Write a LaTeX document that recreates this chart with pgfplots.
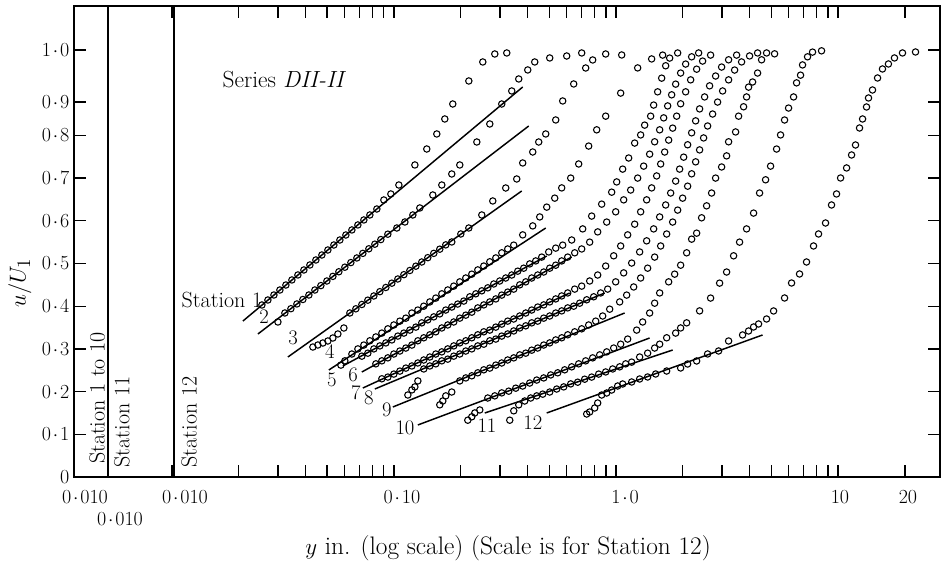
\documentclass[border=0pt]{standalone}
\usepackage{pgfplots}
\pgfplotsset{compat=1.18}
\newcommand{\md}{\kern1.4pt$\cdot$\kern1.4pt}
\pgfplotsset{pt/.style={only marks, mark=o, mark size=2.4pt, line width=0.8pt}}
\begin{document}
\begin{tikzpicture}
\begin{axis}[
  scale only axis, width=649.5pt, height=353.25pt,
  xmode=log, xmin=0.00362, xmax=28.8, ymin=0, ymax=1.103,
  axis line style={line width=1.1pt},
  xtick={0.01,0.02,0.03,0.04,0.05,0.06,0.07,0.08,0.09,0.1,0.2,0.3,0.4,0.5,0.6,0.7,0.8,0.9,1,2,3,4,5,6,7,8,9,10,20},
  xticklabels={,,,,,,,,,,,,,,,,,,,,,,,,,,,,},
  ytick={0,0.1,0.2,0.3,0.4,0.5,0.6,0.7,0.8,0.878,1.0},
  yticklabels={0,0\md1,0\md2,0\md3,0\md4,0\md5,0\md6,0\md7,0\md8,0\md9,1\md0},
  tick align=inside, major tick length=9pt,
  tick style={line width=1pt, black},
  ticklabel style={font=\fontsize{15}{17}\selectfont},
  clip=false,
]
% vertical origin lines
\addplot[line width=1.1pt] coordinates {(0.005148,0) (0.005148,1.103)};
\addplot[line width=1.1pt] coordinates {(0.01021,0) (0.01021,1.103)};
% fitted lines
\addplot[line width=1.1pt] coordinates {(0.02088,0.3653) (0.3801,0.9133)};
\addplot[line width=1.1pt] coordinates {(0.02439,0.3349) (0.4045,0.8220)};
\addplot[line width=1.1pt] coordinates {(0.03328,0.2810) (0.3762,0.6698)};
\addplot[line width=1.1pt] coordinates {(0.05090,0.2506) (0.4825,0.5831)};
\addplot[line width=1.1pt] coordinates {(0.05885,0.2600) (0.4875,0.5176)};
\addplot[line width=1.1pt] coordinates {(0.07166,0.2459) (0.6317,0.5152)};
\addplot[line width=1.1pt] coordinates {(0.07241,0.2084) (0.6187,0.4309)};
\addplot[line width=1.1pt] coordinates {(0.08200,0.2061) (0.8893,0.4309)};
\addplot[line width=1.1pt] coordinates {(0.09882,0.1639) (1.0942,0.3841)};
\addplot[line width=1.1pt] coordinates {(0.1281,0.1218) (1.4176,0.3255)};
\addplot[line width=1.1pt] coordinates {(0.2565,0.1499) (1.8000,0.2974)};
\addplot[line width=1.1pt] coordinates {(0.4875,0.1499) (4.573,0.3326)};
% station 1
\addplot[pt] coordinates {
(0.02542,0.4028)(0.02705,0.4145)(0.02879,0.4262)(0.03063,0.4379)(0.03260,0.4496)
(0.03469,0.4614)(0.03692,0.4731)(0.03929,0.4848)(0.04181,0.4965)(0.04449,0.5082)
(0.04734,0.5199)(0.05038,0.5316)(0.05361,0.5433)(0.05705,0.5550)(0.06071,0.5667)
(0.06461,0.5785)(0.06876,0.5902)(0.07317,0.6019)(0.07786,0.6136)(0.08372,0.6276)
(0.09002,0.6487)(0.09679,0.6628)(0.1052,0.6838)(0.1242,0.7307)(0.1405,0.7681)
(0.1559,0.8033)(0.1694,0.8384)(0.1840,0.8735)(0.2173,0.9274)(0.2512,0.9719)
(0.2845,0.9906)(0.3221,0.9930)};
% station 2
\addplot[pt] coordinates {
(0.03001,0.3630)(0.03226,0.3841)(0.03433,0.3941)(0.03654,0.4052)(0.03888,0.4157)
(0.04138,0.4262)(0.04403,0.4379)(0.04685,0.4482)(0.04986,0.4590)(0.05306,0.4698)
(0.05646,0.4806)(0.06008,0.4913)(0.06394,0.5021)(0.06805,0.5129)(0.07241,0.5237)
(0.07705,0.5344)(0.08200,0.5452)(0.08726,0.5560)(0.09383,0.5686)(0.1030,0.5831)
(0.1120,0.5972)(0.1216,0.6136)(0.1307,0.6300)(0.1496,0.6604)(0.1642,0.6838)
(0.1821,0.7096)(0.1979,0.7307)(0.2361,0.7845)(0.2701,0.8267)(0.3058,0.8735)
(0.3392,0.9040)(0.3647,0.9321)(0.4004,0.9532)(0.4305,0.9719)(0.5029,0.9813)
(0.5998,0.9859)(0.7007,0.9930)};
% station 3
\addplot[pt] coordinates {
(0.04313,0.3044)(0.04542,0.3091)(0.04784,0.3138)(0.05038,0.3185)(0.05306,0.3255)
(0.05589,0.3349)(0.05947,0.3489)(0.06328,0.3841)(0.06735,0.3939)(0.07166,0.4040)
(0.07626,0.4141)(0.08115,0.4239)(0.08636,0.4340)(0.09190,0.4438)(0.09780,0.4539)
(0.1041,0.4637)(0.1108,0.4738)(0.1179,0.4836)(0.1255,0.4937)(0.1334,0.5035)
(0.1420,0.5136)(0.1511,0.5237)(0.1608,0.5335)(0.1711,0.5436)(0.1821,0.5504)
(0.2000,0.5691)(0.2173,0.5831)(0.2486,0.6136)(0.2786,0.6464)(0.3187,0.6768)
(0.3572,0.6979)(0.3801,0.7354)(0.4217,0.7611)(0.4487,0.7845)(0.4825,0.8033)
(0.5352,0.8361)(0.5754,0.8806)(0.6449,0.9204)(0.7304,0.9578)(0.7853,0.9766)
(0.8986,0.9906)(1.061,0.9883)};
% station 4
\addplot[pt] coordinates {
(0.05764,0.262)(0.06008,0.272)(0.06461,0.288)(0.06876,0.300)(0.07317,0.309)
(0.07786,0.319)(0.08286,0.328)(0.08817,0.337)(0.09383,0.347)(0.09985,0.356)
(0.1063,0.365)(0.1131,0.372)(0.1204,0.384)(0.1281,0.391)(0.1362,0.400)
(0.1450,0.410)(0.1543,0.419)(0.1642,0.429)(0.1747,0.438)(0.1859,0.447)
(0.1979,0.457)(0.2106,0.466)(0.2241,0.475)(0.2385,0.485)(0.2538,0.494)
(0.2701,0.504)(0.2875,0.513)(0.3058,0.525)(0.3254,0.534)(0.3463,0.543)
(0.3801,0.567)(0.4217,0.588)(0.4534,0.609)(0.4875,0.632)(0.5297,0.653)
(0.5695,0.677)(0.6252,0.700)(0.6792,0.733)(0.7534,0.775)(0.8186,0.813)
(0.8986,0.845)(1.0497,0.899)(1.2521,0.958)(1.4473,0.979)(1.6227,0.988)};
% station 5
\addplot[pt] coordinates {
(0.07166,0.283)(0.07626,0.290)(0.08115,0.300)
(0.08636,0.307)(0.09190,0.314)(0.09780,0.321)(0.1041,0.330)(0.1108,0.337)
(0.1179,0.344)(0.1255,0.351)(0.1334,0.361)(0.1420,0.368)(0.1511,0.375)
(0.1608,0.382)(0.1711,0.391)(0.1821,0.398)(0.1938,0.405)(0.2063,0.412)
(0.2195,0.422)(0.2336,0.429)(0.2486,0.436)(0.2646,0.443)(0.2815,0.452)
(0.2995,0.459)(0.3187,0.466)(0.3392,0.473)(0.3610,0.482)(0.3841,0.489)
(0.4087,0.499)(0.4350,0.506)(0.4629,0.515)(0.4977,0.527)(0.5352,0.536)
(0.5754,0.543)(0.6317,0.555)(0.7080,0.581)(0.7772,0.611)(0.8621,0.639)
(0.9563,0.667)(1.0072,0.691)(1.0717,0.721)(1.1405,0.747)(1.2137,0.782)
(1.2913,0.801)(1.3460,0.824)(1.4324,0.845)(1.4776,0.871)(1.5402,0.902)
(1.6060,0.934)(1.6740,0.963)(1.7448,0.981)(1.8958,0.993)};
% station 6
\addplot[pt] coordinates {
(0.08286,0.265)(0.08817,0.272)(0.09383,0.279)
(0.09985,0.288)(0.1063,0.295)(0.1131,0.302)(0.1204,0.309)(0.1281,0.319)
(0.1362,0.326)(0.1450,0.333)(0.1543,0.340)(0.1642,0.349)(0.1747,0.356)
(0.1859,0.363)(0.1979,0.372)(0.2106,0.379)(0.2241,0.386)(0.2385,0.396)
(0.2538,0.403)(0.2701,0.410)(0.2875,0.417)(0.3058,0.426)(0.3254,0.433)
(0.3463,0.440)(0.3685,0.450)(0.3922,0.457)(0.4173,0.466)(0.4441,0.473)
(0.4726,0.480)(0.5029,0.489)(0.5352,0.496)(0.5695,0.506)(0.6061,0.515)
(0.6517,0.525)(0.7007,0.534)(0.7612,0.550)(0.8271,0.574)(0.9080,0.597)
(0.9968,0.621)(1.0829,0.649)(1.1644,0.672)(1.2521,0.700)(1.3322,0.728)
(1.4176,0.756)(1.4931,0.785)(1.573,0.813)(1.6397,0.841)(1.7091,0.869)
(1.7814,0.895)(1.8569,0.920)(1.9551,0.946)(2.0592,0.967)(2.1914,0.984)
(2.3562,0.993)};
% station 7
\addplot[pt] coordinates {
(0.08817,0.230)(0.09383,0.234)(0.09985,0.241)
(0.1063,0.248)(0.1131,0.255)(0.1204,0.260)(0.1281,0.267)(0.1362,0.274)
(0.1450,0.281)(0.1543,0.288)(0.1642,0.293)(0.1747,0.300)(0.1859,0.307)
(0.1979,0.314)(0.2106,0.319)(0.2241,0.326)(0.2385,0.333)(0.2538,0.340)
(0.2701,0.344)(0.2875,0.351)(0.3058,0.358)(0.3254,0.365)(0.3463,0.370)
(0.3685,0.377)(0.3922,0.384)(0.4173,0.391)(0.4441,0.398)(0.4726,0.403)
(0.5029,0.410)(0.5352,0.417)(0.5695,0.424)(0.6061,0.431)(0.6517,0.440)
(0.7007,0.447)(0.7612,0.459)(0.8271,0.473)(0.8986,0.494)(0.9763,0.518)
(1.0497,0.541)(1.1288,0.567)(1.2137,0.592)(1.2913,0.621)(1.3742,0.649)
(1.4473,0.677)(1.5244,0.705)(1.5894,0.733)(1.6567,0.761)(1.7268,0.789)
(1.8000,0.817)(1.8763,0.845)(1.9551,0.874)(2.0592,0.902)(2.1688,0.930)
(2.3081,0.955)(2.4552,0.974)(2.6675,0.988)};
% station 8
\addplot[pt] coordinates {
(0.1155,0.192)(0.1204,0.204)(0.1242,0.211)(0.1281,0.225)(0.1362,0.253)
(0.1450,0.260)(0.1543,0.265)(0.1642,0.272)(0.1747,0.276)(0.1859,0.283)
(0.1979,0.288)(0.2106,0.295)(0.2241,0.300)(0.2385,0.307)(0.2538,0.311)
(0.2701,0.319)(0.2875,0.323)(0.3058,0.330)(0.3254,0.335)(0.3463,0.342)
(0.3685,0.349)(0.3922,0.354)(0.4173,0.361)(0.4441,0.365)(0.4726,0.372)
(0.5029,0.377)(0.5352,0.384)(0.5695,0.389)(0.6061,0.396)(0.6449,0.400)
(0.6863,0.407)(0.7380,0.415)(0.7935,0.422)(0.8532,0.431)(0.9174,0.440)
(0.9968,0.457)(1.0829,0.478)(1.1766,0.501)(1.278,0.527)(1.3742,0.553)
(1.4776,0.581)(1.573,0.609)(1.6740,0.637)(1.7630,0.665)(1.8569,0.693)
(1.935,0.721)(2.0170,0.749)(2.1024,0.778)(2.1914,0.806)(2.2842,0.834)
(2.380,0.862)(2.5066,0.890)(2.6399,0.916)(2.8096,0.939)(2.9905,0.960)
(3.2155,0.977)(3.4937,0.988)};
% station 9
\addplot[pt] coordinates {
(0.1608,0.169)(0.1659,0.178)(0.1711,0.190)(0.1821,0.199)(0.1979,0.225)
(0.2106,0.232)(0.2241,0.237)(0.2385,0.244)(0.2538,0.251)(0.2701,0.255)
(0.2875,0.262)(0.3058,0.267)(0.3254,0.274)(0.3463,0.279)(0.3685,0.286)
(0.3922,0.290)(0.4173,0.297)(0.4441,0.302)(0.4726,0.309)(0.5029,0.314)
(0.5352,0.321)(0.5695,0.326)(0.6061,0.333)(0.6517,0.340)(0.7007,0.347)
(0.7534,0.356)(0.8102,0.365)(0.8711,0.377)(0.9366,0.393)(1.0389,0.410)
(1.1171,0.426)(1.2012,0.445)(1.2913,0.466)(1.3885,0.489)(1.4931,0.515)
(1.5894,0.541)(1.6914,0.569)(1.8000,0.597)(1.8958,0.625)(1.9961,0.653)
(2.1024,0.681)(2.1914,0.710)(2.2842,0.738)(2.380,0.766)(2.4809,0.794)
(2.5859,0.822)(2.7234,0.850)(2.8684,0.878)(3.0216,0.904)(3.2155,0.930)
(3.4220,0.953)(3.6787,0.972)(3.9965,0.986)(4.3423,0.993)};
% station 10
\addplot[pt] coordinates {
(0.2150,0.133)(0.2241,0.141)(0.2312,0.150)(0.2435,0.157)(0.2646,0.185)
(0.2845,0.190)(0.3058,0.197)(0.3288,0.201)(0.3536,0.208)(0.3801,0.213)
(0.4087,0.220)(0.4395,0.227)(0.4726,0.232)(0.5082,0.239)(0.5464,0.244)
(0.5875,0.251)(0.6317,0.258)(0.6792,0.265)(0.7304,0.272)(0.7853,0.279)
(0.8444,0.286)(0.9080,0.293)(0.9763,0.302)(1.0497,0.311)(1.1288,0.323)
(1.2392,0.344)(1.3184,0.363)(1.4176,0.384)(1.4931,0.407)(1.573,0.431)
(1.7268,0.457)(1.8377,0.475)(1.9551,0.496)(2.0807,0.525)(2.1914,0.557)
(2.3081,0.571)(2.4300,0.607)(2.5592,0.635)(2.6954,0.665)(2.8096,0.700)
(2.9905,0.726)(3.1496,0.752)(3.2155,0.785)(3.4577,0.808)(3.5667,0.845)
(3.7558,0.867)(3.8743,0.890)(3.9554,0.913)(4.1229,0.925)(4.3423,0.946)
(4.5261,0.977)(4.7668,0.993)(5.1791,0.991)};
% station 11
\addplot[pt] coordinates {
(0.3322,0.133)(0.3463,0.155)(0.3647,0.169)(0.3881,0.178)(0.4130,0.185)
(0.4395,0.190)(0.4677,0.194)(0.5029,0.199)(0.5408,0.206)(0.5815,0.211)
(0.6252,0.218)(0.6723,0.222)(0.7228,0.229)(0.7772,0.234)(0.8357,0.241)
(0.8986,0.246)(0.9663,0.253)(1.0389,0.258)(1.1056,0.265)(1.1766,0.269)
(1.278,0.281)(1.3885,0.290)(1.4931,0.302)(1.573,0.311)(1.6914,0.326)
(1.8569,0.337)(1.9551,0.349)(2.0807,0.361)(2.380,0.389)(2.6675,0.419)
(2.929,0.454)(3.1496,0.480)(3.3865,0.518)(3.603,0.550)(3.8743,0.581)
(4.1658,0.618)(4.433,0.665)(4.7176,0.696)(4.9685,0.728)(5.2877,0.768)
(5.5107,0.801)(5.7441,0.836)(5.9874,0.864)(6.3059,0.890)(6.5055,0.923)
(6.7798,0.941)(6.9220,0.965)(7.2904,0.984)(7.6783,0.995)(8.4294,0.998)};
% station 12
\addplot[pt] coordinates {
(0.7380,0.1475)(0.7612,0.1522)(0.8018,0.1616)(0.8271,0.1733)(0.8621,0.1920)
(0.9080,0.1967)(0.9563,0.2037)(1.0177,0.2131)(1.0717,0.2178)(1.1766,0.2225)
(1.278,0.2295)(1.3885,0.2342)(1.5087,0.2412)(1.6914,0.2482)(1.955,0.2553)
(2.102,0.2646)(2.308,0.2717)(2.586,0.2881)(2.898,0.2951)(3.215,0.3185)
(3.717,0.3326)(3.955,0.3419)(4.166,0.3513)(4.387,0.3583)(4.767,0.3700)
(5.126,0.3888)(5.744,0.4192)(6.177,0.4543)(6.710,0.4754)(7.215,0.5035)
(7.758,0.5410)(8.171,0.5691)(8.786,0.5948)(9.350,0.6370)(9.848,0.6628)
(10.27,0.7002)(10.93,0.7237)(11.51,0.7541)(11.99,0.7775)(12.50,0.8173)
(12.90,0.8384)(13.44,0.8665)(13.72,0.8876)(14.30,0.9063)(15.07,0.9344)
(15.86,0.9555)(16.87,0.9672)(17.96,0.9813)(19.52,0.9930)(22.34,0.9953)};
% texts
\begin{scope}[font=\fontsize{15}{17}\selectfont]
\node at (rel axis cs:0.0127,-0.0425) {0\md010};
\node at (rel axis cs:0.0531,-0.0892) {0\md010};
\node at (rel axis cs:0.1282,-0.0425) {0\md010};
\node at (rel axis cs:0.3787,-0.0425) {0\md10};
\node at (rel axis cs:0.6363,-0.0425) {1\md0};
\node at (rel axis cs:0.8845,-0.0425) {10};
\node at (rel axis cs:0.9630,-0.0425) {20};
\end{scope}
\node[font=\fontsize{19}{22}\selectfont] at (rel axis cs:0.5012,-0.1507) {$y$ in. (log scale) (Scale is for Station 12)};
\node[rotate=90, font=\fontsize{19}{21}\selectfont] at (rel axis cs:-0.0624,0.412) {$u/U_1$};
\node[anchor=west, font=\fontsize{17.5}{20}\selectfont] at (rel axis cs:0.1663,0.8429) {Series \textit{DII-II}};
\begin{scope}[font=\fontsize{16.5}{19}\selectfont]
\node[rotate=90] at (rel axis cs:0.0266,0.1677) {Station 1 to 10};
\node[rotate=90] at (rel axis cs:0.0554,0.1168) {Station 11};
\node[rotate=90] at (rel axis cs:0.1328,0.1168) {Station 12};
\node[anchor=west] at (rel axis cs:0.1189,0.3758) {Station 1};
\end{scope}
\begin{scope}[font=\fontsize{15.5}{18}\selectfont, inner sep=1pt]
\node at (rel axis cs:0.2194,0.3397) {2};
\node at (rel axis cs:0.2529,0.2951) {3};
\node at (rel axis cs:0.2956,0.2654) {4};
\node at (rel axis cs:0.2979,0.2059) {5};
\node at (rel axis cs:0.3222,0.2166) {6};
\node at (rel axis cs:0.3256,0.1783) {7};
\node at (rel axis cs:0.3406,0.1677) {8};
\node at (rel axis cs:0.3614,0.1423) {9};
\node at (rel axis cs:0.3822,0.1040) {10};
\node at (rel axis cs:0.4769,0.1083) {11};
\node at (rel axis cs:0.5300,0.1146) {12};
\end{scope}
\end{axis}
\path (current axis.south west) ++(-55.5pt,-64.5pt) rectangle ++(705.75pt,422.25pt);
\end{tikzpicture}
\end{document}
